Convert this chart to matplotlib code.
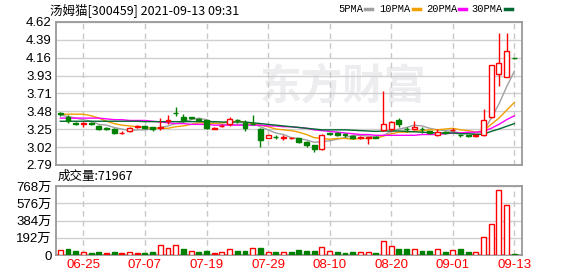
import matplotlib.pyplot as plt
from matplotlib.patches import Rectangle
from matplotlib.lines import Line2D

plt.rcParams['font.family'] = ['Liberation Sans', 'Noto Sans CJK SC']

# daily candles, 2021-06-22 .. 2021-09-13
opens = [3.45, 3.40, 3.325, 3.32, 3.325, 3.29, 3.26, 3.25, 3.20, 3.22,
         3.27, 3.285, 3.27, 3.26, 3.35, 3.46, 3.40, 3.40, 3.375, 3.36,
         3.26, 3.29, 3.31, 3.365, 3.33, 3.32, 3.25, 3.14, 3.15, 3.14,
         3.14, 3.13, 3.09, 3.045, 2.99, 3.19, 3.20, 3.18, 3.16, 3.14,
         3.14, 3.15, 3.24, 3.25, 3.36, 3.255, 3.245, 3.25, 3.225, 3.17,
         3.21, 3.235, 3.175, 3.17, 3.165, 3.17, 3.40, 3.96, 3.92, 4.16]
highs = [3.47, 3.43, 3.345, 3.34, 3.34, 3.30, 3.28, 3.26, 3.22, 3.27,
         3.30, 3.29, 3.28, 3.39, 3.43, 3.53, 3.445, 3.41, 3.39, 3.37,
         3.27, 3.32, 3.40, 3.38, 3.36, 3.43, 3.26, 3.18, 3.17, 3.17,
         3.15, 3.14, 3.10, 3.05, 3.185, 3.20, 3.21, 3.20, 3.17, 3.16,
         3.15, 3.16, 3.74, 3.35, 3.39, 3.27, 3.35, 3.27, 3.23, 3.25,
         3.22, 3.26, 3.19, 3.18, 3.19, 3.51, 4.07, 4.48, 4.48, 4.16]
lows = [3.42, 3.33, 3.30, 3.27, 3.30, 3.24, 3.24, 3.19, 3.19, 3.21,
        3.26, 3.25, 3.23, 3.24, 3.31, 3.42, 3.34, 3.38, 3.36, 3.25,
        3.245, 3.27, 3.29, 3.33, 3.22, 3.30, 3.02, 3.13, 3.12, 3.11,
        3.12, 3.07, 3.02, 2.95, 2.985, 3.18, 3.16, 3.15, 3.12, 3.12,
        3.06, 3.13, 3.23, 3.23, 3.28, 3.21, 3.24, 3.20, 3.19, 3.16,
        3.19, 3.22, 3.15, 3.15, 3.15, 3.16, 3.39, 3.80, 3.92, 4.15]
closes = [3.44, 3.35, 3.32, 3.33, 3.32, 3.25, 3.255, 3.20, 3.205, 3.26,
          3.29, 3.26, 3.25, 3.275, 3.36, 3.45, 3.36, 3.395, 3.37, 3.26,
          3.25, 3.29, 3.38, 3.36, 3.26, 3.31, 3.11, 3.17, 3.145, 3.14,
          3.135, 3.08, 3.04, 2.995, 3.18, 3.19, 3.175, 3.18, 3.13, 3.15,
          3.14, 3.13, 3.32, 3.34, 3.31, 3.25, 3.28, 3.245, 3.195, 3.215,
          3.20, 3.24, 3.17, 3.165, 3.17, 3.37, 4.07, 4.09, 4.25, 4.155]
# u = red hollow, r = red filled, d = green filled
kinds = list("dddrddddru" "rddrrddddd" "rruddddudr"
             "rddduddddu" "rduudduddu" "drddruuuud")

# volume in 万
volume = [56, 68, 49, 34, 23, 34, 23, 34, 23, 34,
          23, 23, 34, 109, 79, 109, 68, 45, 34, 45,
          23, 34, 68, 45, 45, 79, 79, 34, 34, 34,
          34, 56, 45, 45, 86, 45, 34, 23, 34, 34,
          34, 23, 158, 101, 68, 68, 68, 45, 45, 68,
          34, 56, 68, 34, 34, 199, 350, 722, 553, 7.2]
vol_kinds = list("udduddrdru" "rdduuududd" "ruuddududu"
                 "dddduudddu" "uduudduddu" "dudduuuuud")

ma5 = [3.43, 3.41, 3.39, 3.37, 3.35, 3.31, 3.30, 3.27, 3.25, 3.23,
       3.24, 3.24, 3.25, 3.27, 3.29, 3.32, 3.34, 3.37, 3.39, 3.37,
       3.33, 3.31, 3.31, 3.31, 3.31, 3.32, 3.28, 3.24, 3.20, 3.18,
       3.14, 3.13, 3.11, 3.08, 3.09, 3.10, 3.12, 3.14, 3.17, 3.17,
       3.16, 3.15, 3.17, 3.22, 3.25, 3.27, 3.30, 3.29, 3.26, 3.24,
       3.23, 3.22, 3.20, 3.20, 3.19, 3.22, 3.39, 3.57, 3.79, 3.99]
ma10 = [3.44, 3.44, 3.44, 3.44, 3.42, 3.39, 3.35, 3.32, 3.30, 3.29,
        3.28, 3.27, 3.26, 3.26, 3.26, 3.28, 3.29, 3.31, 3.33, 3.33,
        3.32, 3.33, 3.34, 3.35, 3.34, 3.32, 3.30, 3.28, 3.25, 3.24,
        3.23, 3.21, 3.18, 3.14, 3.13, 3.12, 3.13, 3.13, 3.12, 3.13,
        3.13, 3.13, 3.16, 3.19, 3.21, 3.21, 3.22, 3.23, 3.24, 3.24,
        3.25, 3.26, 3.24, 3.23, 3.21, 3.23, 3.31, 3.39, 3.49, 3.59]
ma20 = [3.39, 3.39, 3.39, 3.39, 3.39, 3.39, 3.38, 3.37, 3.37, 3.36,
        3.36, 3.36, 3.35, 3.34, 3.33, 3.32, 3.32, 3.31, 3.31, 3.31,
        3.30, 3.30, 3.30, 3.30, 3.30, 3.30, 3.30, 3.29, 3.29, 3.28,
        3.28, 3.27, 3.26, 3.24, 3.23, 3.22, 3.21, 3.20, 3.19, 3.18,
        3.18, 3.17, 3.17, 3.17, 3.17, 3.17, 3.17, 3.18, 3.18, 3.18,
        3.19, 3.20, 3.20, 3.21, 3.21, 3.22, 3.26, 3.31, 3.37, 3.42]
ma30 = [3.35, 3.35, 3.35, 3.35, 3.35, 3.35, 3.35, 3.35, 3.35, 3.35,
        3.35, 3.345, 3.345, 3.345, 3.345, 3.345, 3.345, 3.345, 3.345, 3.345,
        3.345, 3.34, 3.34, 3.34, 3.34, 3.33, 3.32, 3.31, 3.30, 3.29,
        3.28, 3.27, 3.26, 3.25, 3.24, 3.24, 3.24, 3.24, 3.235, 3.23,
        3.225, 3.22, 3.225, 3.225, 3.225, 3.22, 3.215, 3.21, 3.205, 3.20,
        3.20, 3.20, 3.19, 3.19, 3.18, 3.185, 3.22, 3.25, 3.285, 3.32]

date_pos = [3, 11, 19, 27, 35, 43, 51, 59]
date_labels = ['06-25', '07-07', '07-19', '07-29', '08-10', '08-20', '09-01', '09-13']
price_ticks = [2.79, 3.02, 3.25, 3.48, 3.71, 3.93, 4.16, 4.39, 4.62]
vol_ticks = [0, 192, 384, 576, 768]
vol_labels = ['0', '192万', '384万', '576万', '768万']

RED = '#ff0000'
GREEN = '#008000'
ma_names = ['5PMA', '10PMA', '20PMA', '30PMA']
ma_colors = ['#a0a0a0', '#f0a000', '#ff00ff', '#006a30']

fig = plt.figure(figsize=(5.78, 2.76), dpi=100)
ax = fig.add_axes([56/578, 1-165/276, 466/578, 143/276])
axv = fig.add_axes([56/578, 1-255/276, 466/578, 69/276])

# watermark
ax.text(0.615, 0.55, '东方财富', transform=ax.transAxes, fontsize=30, fontweight='bold',
        color='#ededf0', ha='center', va='center', family=['Noto Sans CJK SC'], zorder=0)

x = list(range(len(closes)))
w = 0.64
for i in x:
    col = GREEN if kinds[i] == 'd' else RED
    ax.vlines(i, lows[i], highs[i], color=col, lw=1, zorder=3)
    lo = min(opens[i], closes[i])
    h = max(abs(closes[i] - opens[i]), 0.004)
    face = 'white' if kinds[i] == 'u' else col
    ax.add_patch(Rectangle((i - w/2, lo), w, h, facecolor=face, edgecolor=col, lw=1, zorder=4))

for ma, c in zip([ma5, ma10, ma20, ma30], ma_colors):
    ax.plot(x, ma, color=c, lw=1, zorder=2)

ax.set_ylim(2.79, 4.62)
ax.set_yticks(price_ticks)
ax.set_yticklabels(['%.2f' % t for t in price_ticks], fontsize=9.5)

for i in x:
    col = GREEN if vol_kinds[i] == 'd' else RED
    face = 'white' if vol_kinds[i] == 'u' else col
    axv.bar(i, volume[i], width=w, facecolor=face, edgecolor=col, lw=1, zorder=3)
axv.set_ylim(0, 768)
axv.set_yticks(vol_ticks)
axv.set_yticklabels(vol_labels, fontsize=9.5)

for a in (ax, axv):
    a.set_xlim(-0.56, 60.0)
    a.set_xticks(date_pos)
    a.grid(axis='y', color='#d0d0d0', lw=1, zorder=0)
    for p in date_pos:
        a.axvline(p, color='#c8c8c8', lw=1, ls=(0, (4, 3)), zorder=1)
    a.tick_params(length=0, pad=3)
    for s in a.spines.values():
        s.set_color('#999999')
        s.set_linewidth(1.3)
    a.set_axisbelow(True)

ax.set_xticklabels([])
axv.set_xticklabels(date_labels, color=RED, fontsize=9.5)

fig.text(50/578, 1-10/276, '汤姆猫[300459] 2021-09-13 09:31', fontsize=9,
         va='center', ha='left', family=['Noto Sans CJK SC', 'DejaVu Sans'])
fig.text(58/578, 1-176/276, '成交量:71967', fontsize=9,
         va='center', ha='left', family=['Noto Sans CJK SC', 'DejaVu Sans'])

# legend: name ends just before its short colour dash
dash_x = [365, 413, 459, 505]
for name, c, dx in zip(ma_names, ma_colors, dash_x):
    fig.text((dx - 2)/578, 1-9/276, name, fontsize=7.5, va='center', ha='right',
             family=['Liberation Mono'])
    fig.add_artist(Line2D([dx/578, (dx + 7)/578], [1-9/276, 1-9/276], color=c, lw=2.5))

fig.savefig('out.png', dpi=100)
